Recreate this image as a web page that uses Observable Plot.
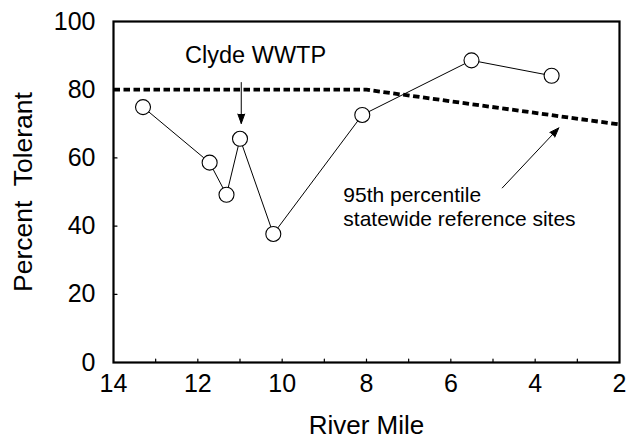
<!DOCTYPE html>
<html>
<head>
<meta charset="utf-8">
<script src="https://cdn.jsdelivr.net/npm/d3@7"></script>
<script src="https://cdn.jsdelivr.net/npm/@observablehq/plot@0.6"></script>
<style>
  html, body { margin: 0; padding: 0; background: #fff; }
  #chart svg { display: block; }
</style>
</head>
<body>
<div id="chart"></div>
<script>
// Observed sites: river mile and percent tolerant
const riverMile = [13.3, 11.72, 11.32, 11.0, 10.21, 8.1, 5.51, 3.61];
const pctTolerant = [74.9, 58.6, 49.2, 65.6, 37.7, 72.6, 88.6, 84.1];

// 95th percentile statewide reference line
const refMile = [14, 8, 2];
const refPct = [80, 80, 69.8];

// Tick labels
const xTickLabels = [14, 12, 10, 8, 6, 4, 2];
const xMinorTicks = [13, 12, 11, 10, 9, 8, 7, 6, 5, 4, 3];
const yTickLabels = [0, 20, 40, 60, 80, 100];
const yMinorTicks = [20, 40, 60, 80];

// Annotations (data coordinates)
const annText = ["Clyde WWTP", "95th percentile\nstatewide reference sites"];
const annX = [10.63, 8.55];
const annY = [87.7, 51.9];
const arrowX1 = [10.97, 4.78];
const arrowY1 = [82.1, 51.2];
const arrowX2 = [10.97, 3.44];
const arrowY2 = [70.1, 68.8];

const obs = riverMile.map((m, i) => ({mile: m, pct: pctTolerant[i]}));
const ref = refMile.map((m, i) => ({mile: m, pct: refPct[i]}));
const arrows = arrowX1.map((x, i) => ({x1: x, y1: arrowY1[i], x2: arrowX2[i], y2: arrowY2[i]}));

const tickShape = {draw(context, l) { context.moveTo(0, 0); context.lineTo(0, -l); }};
const FONT = "'Liberation Sans', Arial, Helvetica, sans-serif";

const chart = Plot.plot({
  width: 626,
  height: 439,
  marginLeft: 113,
  marginRight: 7,
  marginTop: 21,
  marginBottom: 77,
  style: {fontFamily: FONT, color: "#000", background: "#fff"},
  x: {domain: [14, 2], axis: null},
  y: {domain: [0, 100], axis: null},
  marks: [
    Plot.axisX({ticks: xTickLabels, tickSize: 0, tickPadding: 12, fontSize: 25, label: null}),
    Plot.axisY({ticks: yTickLabels, tickSize: 0, tickPadding: 18, fontSize: 25, label: null}),
    Plot.vector(xMinorTicks, {x: d => d, frameAnchor: "bottom", length: 3.5, rotate: 0, anchor: "start", shape: tickShape, strokeWidth: 1.2}),
    Plot.vector(yMinorTicks, {y: d => d, frameAnchor: "left", length: 3.5, rotate: 90, anchor: "start", shape: tickShape, strokeWidth: 1.2}),
    Plot.text(["River Mile"], {frameAnchor: "bottom", textAnchor: "middle", dy: 53, lineAnchor: "top", fontSize: 26}),
    Plot.text(["Percent\u00a0 Tolerant"], {frameAnchor: "left", textAnchor: "middle", dx: -90, rotate: -90, lineAnchor: "middle", fontSize: 26.5}),
    Plot.line(ref, {x: "mile", y: "pct", stroke: "#000", strokeWidth: 3.8, strokeDasharray: "6.5,3.5", strokeLinecap: "butt", strokeLinejoin: "miter"}),
    Plot.line(obs, {x: "mile", y: "pct", stroke: "#000", strokeWidth: 1}),
    Plot.dot(obs, {x: "mile", y: "pct", r: 7.5, fill: "#fff", stroke: "#000", strokeWidth: 1.1}),
    Plot.arrow(arrows, {x1: "x1", y1: "y1", x2: "x2", y2: "y2", stroke: "#000", fill: "#000", strokeWidth: 1, headLength: 15, headAngle: 40, strokeLinejoin: "miter"}),
    Plot.text([annText[0]], {x: annX[0], y: annY[0], textAnchor: "middle", lineAnchor: "bottom", fontSize: 23.5}),
    Plot.text([annText[1]], {x: annX[1], y: annY[1], textAnchor: "start", lineAnchor: "top", lineHeight: 1.12, fontSize: 21}),
    Plot.frame({stroke: "#000", strokeWidth: 2.2})
  ]
});
document.getElementById("chart").appendChild(chart);
</script>
</body>
</html>
